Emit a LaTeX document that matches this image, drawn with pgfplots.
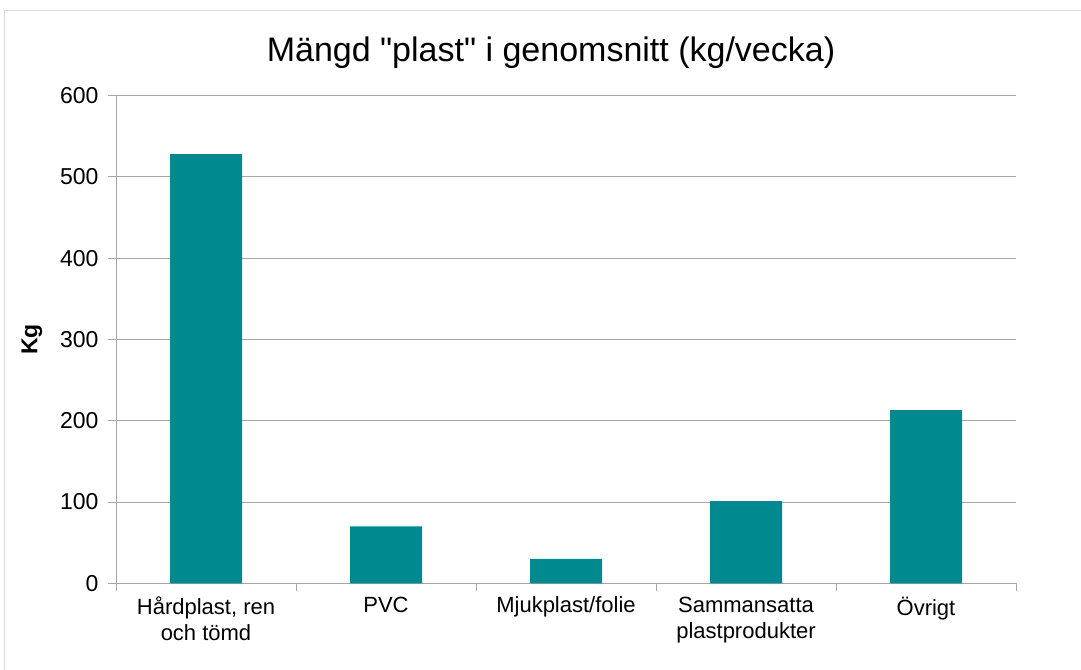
\documentclass[border=0pt]{standalone}
\usepackage{fontspec}
\setmainfont{Liberation Sans}
\newfontfamily\titlefont{Liberation Sans}[Ligatures=ResetAll]
\usepackage{pgfplots}
\pgfplotsset{compat=1.18}
\definecolor{barteal}{HTML}{00898F}
\definecolor{gridgray}{HTML}{A6A6A6}
\definecolor{framegray}{HTML}{D9D9D9}
\begin{document}
\begin{tikzpicture}
\useasboundingbox (0,0) rectangle (1081bp,670bp);
\draw[framegray, line width=1bp] (4bp,-5bp) -- (4bp,659bp) -- (1090bp,659bp);
\begin{axis}[
  at={(116bp,86.7bp)}, anchor=south west,
  scale only axis, width=900bp, height=487.6bp,
  ybar, bar width=72bp,
  xmin=-0.5, xmax=4.5, ymin=0, ymax=600,
  ytick={0,100,...,600},
  xtick={0,1,2,3,4},
  xticklabels={{Hårdplast, ren\\och tömd},PVC,Mjukplast/folie,{Sammansatta\\plastprodukter},Övrigt},
  minor xtick={-0.5,0.5,1.5,2.5,3.5,4.5},
  major x tick style={draw=none},
  tick align=outside,
  major tick length=8bp, minor tick length=8bp,
  tick style={gridgray, line width=1bp},
  axis lines*=left,
  axis line style={gridgray, line width=1bp},
  ymajorgrids, grid style={gridgray, line width=1bp},
  /pgf/number format/assume math mode=true,
  ticklabel style={font=\fontsize{22bp}{26bp}\selectfont, text=black},
  yticklabel style={font=\fontsize{23bp}{26bp}\selectfont, xshift=-6bp},
  xticklabel style={align=center, yshift=-2bp},
  ylabel={\textbf{Kg}},
  every axis y label/.style={at={([xshift=-84bp]axis description cs:0,0.5)}, rotate=90, anchor=center, font=\fontsize{23bp}{26bp}\selectfont},
  title={Mängd "plast" i genomsnitt (kg/vecka)},
  title style={at={(axis description cs:0.5,1)}, anchor=base, yshift=28bp, xshift=-15bp, font=\titlefont\fontsize{34bp}{40bp}\selectfont},
]
\addplot[fill=barteal, draw=none] coordinates {(0,528) (1,70) (2,30) (3,101) (4,213)};
\end{axis}
\end{tikzpicture}
\end{document}
